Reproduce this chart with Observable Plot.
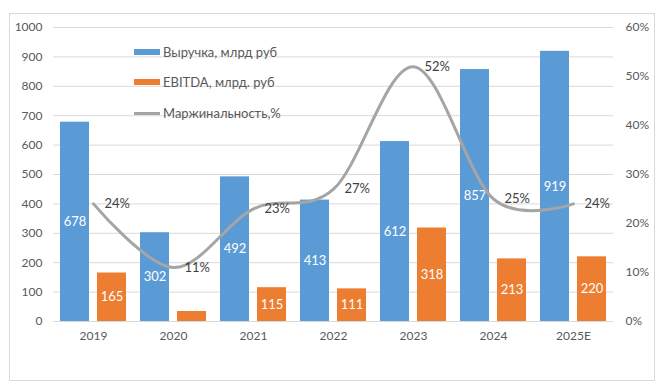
<!DOCTYPE html>
<html>
<head>
<meta charset="utf-8">
<script src="https://cdn.jsdelivr.net/npm/d3@7"></script>
<script src="https://cdn.jsdelivr.net/npm/@observablehq/plot@0.6"></script>
<style>
  html, body { margin: 0; padding: 0; background: #fff; }
  #wrap { position: relative; width: 671px; height: 391px; font-family: Lato, "Open Sans", sans-serif; }
  #border { position: absolute; left: 9px; top: 13px; width: 646px; height: 368px; border: 1px solid #d9d9d9; box-sizing: border-box; }
  #chart { position: absolute; left: 0; top: 0; }
  .leg { position: absolute; left: 134px; display: flex; align-items: center; font-size: 13px; color: #595959; white-space: nowrap; }
  .sw { width: 26px; height: 6px; margin-right: 3px; }
  .swl { width: 26px; height: 3px; margin-right: 3px; background: #a5a5a5; }
</style>
</head>
<body>
<div id="wrap">
  <div id="border"></div>
  <div id="chart"></div>
  <div id="legend"></div>
</div>
<script>
const years = ["2019", "2020", "2021", "2022", "2023", "2024", "2025E"];
const revenue = [678, 302, 492, 413, 612, 857, 919];
const ebitda = [165, 34, 115, 111, 318, 213, 220];
const margin = [24, 11, 23, 27, 52, 25, 24];
const leftTicks = [0, 100, 200, 300, 400, 500, 600, 700, 800, 900, 1000];
const rightTicks = [0, 10, 20, 30, 40, 50, 60];
const seriesNames = ["Выручка, млрд руб", "EBITDA, млрд. руб", "Маржинальность,%"];

const BLUE = "#5b9bd5", ORANGE = "#ed7d31", GRAY = "#a5a5a5";
const pctToY = p => p * 1000 / 60;

const data = years.map((y, i) => ({year: y, rev: revenue[i], ebitda: ebitda[i], m: margin[i]}));

const chart = Plot.plot({
  width: 671,
  height: 391,
  marginLeft: 53,
  marginRight: 58,
  marginTop: 27,
  marginBottom: 70,
  style: {fontFamily: "Lato, 'Open Sans', sans-serif", fontSize: "12px", color: "#595959", background: "transparent"},
  x: {domain: years, padding: 0, label: null},
  y: {domain: [0, 1000], label: null},
  marks: [
    Plot.gridY(leftTicks, {stroke: "#d9d9d9", strokeOpacity: 1}),
    Plot.axisY({ticks: leftTicks, tickFormat: d => String(d), tickSize: 0, tickPadding: 11, label: null, fontSize: 12}),
    Plot.axisY({anchor: "right", ticks: rightTicks.map(pctToY), tickFormat: d => Math.round(d * 60 / 1000) + "%", tickSize: 0, tickPadding: 12, textAnchor: "start", label: null, fontSize: 12}),
    Plot.axisX({tickSize: 0, tickPadding: 10, label: null, fontSize: 12}),
    Plot.barY(data, {x: "year", y: "rev", fill: BLUE, insetLeft: 7, insetRight: 44}),
    Plot.barY(data, {x: "year", y: "ebitda", fill: ORANGE, insetLeft: 44, insetRight: 7}),
    Plot.text(data, {x: "year", y: d => d.rev / 2, text: d => String(d.rev), fill: "white", dx: -18.5, fontSize: 13}),
    Plot.text(data.filter(d => d.ebitda >= 50), {x: "year", y: d => d.ebitda / 2, text: d => String(d.ebitda), fill: "white", dx: 18.5, fontSize: 13}),
    Plot.line(data, {x: "year", y: d => pctToY(d.m), curve: "cardinal", stroke: GRAY, strokeWidth: 3}),
    Plot.text(data, {x: "year", y: d => pctToY(d.m), text: d => d.m + "%", textAnchor: "start", dx: 11, fill: "#404040", fontSize: 13})
  ]
});
document.getElementById("chart").appendChild(chart);

const legend = document.getElementById("legend");
const legTops = [52, 82, 113];
const swatches = [`<div class="sw" style="background:${BLUE}"></div>`, `<div class="sw" style="background:${ORANGE}"></div>`, `<div class="swl"></div>`];
seriesNames.forEach((n, i) => {
  const el = document.createElement("div");
  el.className = "leg";
  el.style.top = (legTops[i] - 9) + "px";
  el.style.height = "18px";
  el.innerHTML = swatches[i] + `<span>${n}</span>`;
  legend.appendChild(el);
});
</script>
</body>
</html>
